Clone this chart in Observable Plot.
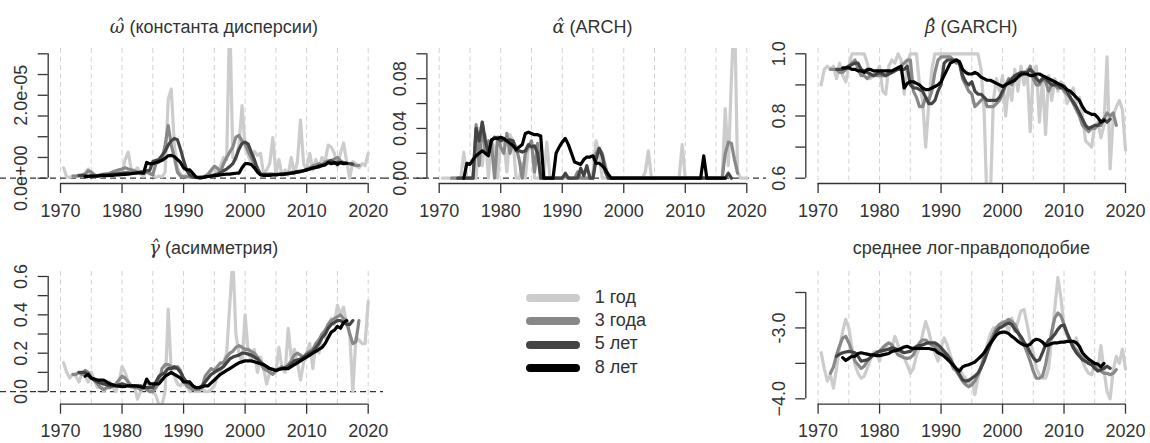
<!DOCTYPE html>
<html><head><meta charset="utf-8">
<script src="https://cdn.jsdelivr.net/npm/d3@7"></script>
<script src="https://cdn.jsdelivr.net/npm/@observablehq/plot@0.6"></script>
<style>
body{margin:0;background:#fff;}
#chart{position:relative;width:1150px;height:443px;overflow:hidden;font-family:"Liberation Sans",Arial,Helvetica,sans-serif;color:#333;}
.panel{position:absolute;}
.panel svg{overflow:visible;}
.title{position:absolute;width:340px;font-size:18px;line-height:18px;text-align:center;white-space:nowrap;color:#333;}
.greek{font-family:"DejaVu Serif",serif;font-style:italic;}
.legbar{position:absolute;height:8px;border-radius:4px;}
.legtxt{position:absolute;font-size:18px;line-height:18px;color:#333;white-space:nowrap;}
</style></head>
<body><div id="chart"></div>
<script>
// ---------- categories ----------
const windows = ["1 год", "3 года", "5 лет", "8 лет"];
const windowColors = ["#cccccc", "#888888", "#444444", "#000000"];
const windowStarts = [1970.5, 1972, 1973, 1974];
const STEP = 0.5;
const xTicks = [1970, 1980, 1990, 2000, 2010, 2020];
const gridYears = [1970, 1975, 1980, 1985, 1990, 1995, 2000, 2005, 2010, 2015, 2020];

// ---------- omega (units of 1e-6) ----------
const OMEGA_UNIT = 1e-6;
const omega1 = [2.5,0.3,0.2,0.5,0.4,0.8,0.5,1.2,2.2,0.5,
 0.3,0.6,0.4,0.8,1.2,0.5,1.5,0.8,1.5,1.0,
 4.5,6.3,2.0,1.5,2.5,1.0,0.5,1.8,1.0,0.8,
 0.2,0.5,0.3,1.5,19,21.5,8,2.5,1.0,0.5,
 0.8,0.3,0.2,0.1,0.1,0.2,0.3,0.5,1.5,2.5,
 0.5,3.0,5.0,4.5,40,5,4.5,8,17.5,7.5,
 5.5,3.5,6.5,5.5,6.0,1.0,2.0,3.5,9.8,1.0,
 4.5,0.5,2.0,0.8,5.0,1.0,4.0,14,3.5,2.0,
 6.0,2.0,4.5,2.5,5.0,4.0,8.0,7.5,6.0,3.0,
 6.0,8.5,4.0,0.0,4.0,3.5,2.5,3.5,3.0,6.0];
const omega3 = [0.5,0.5,0.6,0.8,1.0,1.8,1.5,0.8,0.6,0.8,
 1.0,1.0,1.2,1.5,1.8,2.0,2.2,2.5,2.2,2.0,
 1.8,1.5,1.3,1.2,1.5,1.2,0.8,3.5,4.0,4.5,
 8.0,12.7,8.0,5.0,1.5,0.5,0.3,0.3,0.3,0.2,
 0.2,0.2,0.3,0.5,1.0,2.0,2.9,2.4,1.5,3.5,
 5.0,6.3,7.5,9.9,10.3,9.0,8.3,6.5,5.0,3.5,
 2.5,1.0,0.9,0.9,1.0,0.9,0.8,0.9,1.0,1.0,
 1.1,1.4,1.5,1.4,1.6,1.8,2.2,2.5,3.0,3.2,
 3.5,3.2,3.9,4.2,4.3,4.6,5.0,4.2,3.5,3.6,
 3.5,3.3,3.0,3.1];
const omega5 = [0.6,0.6,0.6,0.5,0.5,0.5,0.6,0.7,0.8,0.8,0.9,1.0,1.0,1.1,
 1.2,1.3,1.3,1.2,1.2,1.3,1.5,1.5,1.8,1.9,4.0,4.3,
 4.5,5.5,6.5,8.0,9.0,9.6,9.3,7.0,4.3,2.0,
 0.8,0.3,0.2,0.2,0.2,0.3,0.4,0.6,0.8,1.0,
 1.3,1.8,2.2,2.8,3.5,5.0,7.0,8.4,8.7,8.2,
 6.3,4.5,2.2,1.0,0.9,0.9,0.9,0.9,0.9,1.0,
 1.0,1.1,1.2,1.3,1.4,1.6,1.7,1.8,2.0,2.2,
 2.4,2.6,3.0,3.2,3.4,3.9,4.2,3.6,3.9,3.7,
 3.8,3.6,3.5,3.4];
const omega8 = [0.4,0.4,0.5,0.5,0.5,0.6,0.6,0.6,0.7,0.7,
 0.8,0.8,0.9,0.9,1.0,1.1,1.2,1.3,1.3,1.2,
 3.8,3.5,3.5,3.8,4.0,4.3,4.8,5.4,5.5,5.2,
 4.5,3.8,2.5,2.0,2.0,1.2,0.3,0.1,0.1,0.3,
 0.4,0.5,0.6,0.7,0.8,0.9,1.0,1.0,1.1,1.2,
 1.2,2.5,3.5,3.5,3.3,2.5,1.5,0.8,0.7,0.7,
 0.7,0.8,0.8,0.9,0.9,1.0,1.1,1.2,1.3,1.5,
 1.6,1.8,2.0,2.2,2.5,2.6,2.8,3.0,3.2,3.8,
 3.5,3.8,3.3,3.8,3.5,3.6];

// ---------- alpha ----------
const alpha1 = [0,0,0,0,0,0,0,0.021,0,0,
 0,0,0.04,0.01,0.035,0,0.03,0.025,0,0.03,
 0.03,0.005,0.035,0.03,0,0,0.012,0,0.025,0.03,
 0,0,0,0,0.029,0,0,0,0,0,
 0,0,0,0,0,0,0,0,0,0.005,
 0.03,0.02,0,0,0,0,0,0,0,0,
 0,0,0,0,0,0,0.005,0.022,0,0,
 0,0,0,0,0,0,0,0,0.027,0,
 0,0,0,0,0,0,0,0,0,0,
 0,0,0.056,0.01,0.08,0.14,0.005,0,0,0];
const alpha3 = [0,0,0,0,0,0,0,0,
 0.043,0.01,0.045,0.02,0.03,0.028,0.0,0.033,0.025,0.02,
 0.036,0.02,0.03,0.025,0.015,0.0,0.02,0.025,0.03,0.005,
 0.028,0,0,0,0,0,0,0,0,0.002,
 0,0,0,0.005,0,0,0,0,0,0.02,
 0.024,0.02,0.01,0,0,0,0,0,0,0,
 0,0,0,0,0,0,0,0,0,0,
 0,0,0,0,0,0,0,0,0,0,
 0,0,0,0,0,0,0,0,0,0,
 0,0.02,0.029,0.028,0.015,0.004];
const alpha5 = [0,0,0,0,0,0,
 0.04,0.03,0.045,0.03,0.02,0.03,0.033,0.032,0.03,0.031,
 0.03,0.031,0.03,0.022,0.022,0.021,0.022,0.027,0.025,0.026,
 0.02,0,0,0,0,0,0,0,0,0.004,
 0,0,0,0,0.008,0.002,0.01,0,0,0.015,
 0.024,0.018,0.005,0,0,0,0,0,0,0,
 0,0,0,0,0,0,0,0,0,0,
 0,0,0,0,0,0,0,0,0,0,
 0,0,0,0,0,0,0,0,0,0,
 0,0,0.004,0];
const alpha8 = [0,0.012,0.011,0.015,0.018,0.02,0.022,0.02,0.018,0.031,
 0.032,0.032,0.033,0.032,0.03,0.028,0.026,0.023,0.025,0.027,
 0.036,0.037,0.036,0.035,0.035,0.034,0,0,0,0,
 0.02,0.025,0.029,0.032,0.027,0.02,0.013,0.012,0.011,0.015,
 0.017,0.017,0.018,0.012,0.012,0.01,0.007,0.003,0,0,
 0,0,0,0,0,0,0,0,0,0,
 0,0,0,0,0,0,0,0,0,0,
 0,0,0,0,0,0,0,0,0.018,0,
 0,0,0,0,0,0];

// ---------- beta ----------
const beta1 = [0.9,0.95,0.96,0.95,0.96,0.92,0.97,0.93,0.91,0.96,
 1.0,1.0,1.0,1.0,1.0,0.97,0.92,0.93,0.94,0.96,
 0.88,0.87,0.96,0.98,0.97,1.0,0.98,0.87,0.97,1.0,
 1.0,1.0,0.9,0.85,0.7,0.84,0.95,1.0,1.0,1.0,
 1.0,1.0,1.0,1.0,1.0,1.0,1.0,1.0,1.0,1.0,
 1.0,1.0,0.95,0.82,0.5,0.52,0.85,0.92,0.88,0.93,
 0.80,0.9,0.85,0.95,0.88,0.96,0.9,0.95,0.75,0.94,
 0.96,0.78,0.92,0.74,0.93,0.85,0.92,0.88,0.91,0.9,
 0.84,0.86,0.89,0.84,0.86,0.8,0.72,0.71,0.7,0.77,
 0.78,0.73,0.77,0.99,0.63,0.8,0.83,0.85,0.82,0.69];
const beta3 = [0.95,0.95,0.95,0.94,0.94,0.95,0.96,0.97,0.98,0.95,
 0.93,0.93,0.92,0.93,0.93,0.93,0.93,0.93,0.93,0.94,
 0.94,0.95,0.95,0.96,0.97,0.98,0.98,0.88,0.86,0.83,
 0.83,0.86,0.85,0.88,0.94,0.98,0.99,0.99,0.99,0.99,
 0.98,0.97,0.97,0.92,0.9,0.88,0.87,0.83,0.84,0.85,
 0.86,0.83,0.83,0.83,0.84,0.85,0.87,0.9,0.92,0.9,
 0.93,0.93,0.93,0.94,0.94,0.96,0.92,0.9,0.9,0.92,
 0.91,0.88,0.9,0.9,0.89,0.9,0.88,0.87,0.86,0.84,
 0.82,0.8,0.77,0.76,0.75,0.76,0.76,0.77,0.77,0.79,
 0.81,0.8,0.81,0.77];
const beta5 = [0.95,0.95,0.95,0.955,0.96,0.965,0.97,0.97,0.95,0.945,
 0.94,0.935,0.93,0.935,0.94,0.935,0.93,0.935,0.94,0.945,
 0.95,0.95,0.95,0.96,0.9,0.89,0.89,0.885,0.88,0.86,
 0.84,0.84,0.85,0.88,0.9,0.97,0.98,0.98,0.98,0.98,
 0.97,0.93,0.91,0.9,0.91,0.88,0.87,0.87,0.86,0.85,
 0.85,0.85,0.85,0.86,0.88,0.9,0.91,0.92,0.93,0.935,
 0.94,0.94,0.94,0.95,0.94,0.92,0.91,0.92,0.92,0.91,
 0.9,0.9,0.9,0.89,0.89,0.88,0.86,0.845,0.83,0.81,
 0.79,0.77,0.76,0.765,0.77,0.77,0.78,0.79,0.78,0.79];
const beta8 = [0.955,0.955,0.955,0.95,0.95,0.945,0.945,0.94,0.95,0.95,
 0.945,0.945,0.945,0.945,0.945,0.945,0.945,0.95,0.955,0.96,
 0.89,0.905,0.91,0.91,0.905,0.9,0.89,0.885,0.885,0.89,
 0.895,0.9,0.91,0.93,0.95,0.97,0.975,0.98,0.975,0.95,
 0.94,0.935,0.935,0.94,0.935,0.925,0.92,0.915,0.915,0.91,
 0.905,0.9,0.895,0.9,0.905,0.91,0.915,0.925,0.935,0.935,
 0.935,0.93,0.93,0.935,0.935,0.93,0.925,0.92,0.915,0.91,
 0.905,0.9,0.895,0.885,0.88,0.87,0.86,0.85,0.83,0.815,
 0.81,0.805,0.805,0.795,0.78,0.785];

// ---------- gamma ----------
const gamma1 = [0.15,0.1,0.07,0.09,0.08,0.05,0.1,0.08,0.05,0.1,
 0.06,0.02,0.05,0.0,0.02,0.05,0.02,0.0,0.05,0.13,
 0.1,0.05,0.02,0.03,-0.04,0.0,0.02,0.06,0.02,0.0,
 -0.02,-0.07,-0.07,0.0,0.43,0.1,0.08,0.04,0.03,0.05,
 0.03,0.0,0.02,0.0,0.0,0.02,0.0,0.0,0.01,0.03,
 0.08,0.1,0.15,0.2,0.45,0.7,0.3,0.2,0.15,0.4,
 0.2,0.17,0.22,0.1,0.18,0.12,0.04,0.1,0.12,0.1,
 0.23,0.12,0.1,0.33,0.17,0.22,0.15,0.06,0.15,0.2,
 0.25,0.12,0.25,0.2,0.3,0.28,0.35,0.38,0.35,0.45,
 0.4,0.44,0.35,0.3,0.0,0.28,0.27,0.25,0.25,0.47];
const gamma3 = [0.09,0.09,0.1,0.09,0.11,0.1,0.07,0.06,0.04,0.02,
 0.01,0.02,0.02,0.03,0.04,0.06,0.08,0.07,0.05,0.03,
 0.02,0.02,0.01,0.02,0.01,0.0,0.0,0.02,0.05,0.12,
 0.14,0.14,0.13,0.12,0.13,0.11,0.06,0.03,0.02,0.01,
 0.01,0.01,0.02,0.08,0.1,0.12,0.11,0.13,0.15,0.15,
 0.18,0.2,0.21,0.23,0.24,0.23,0.22,0.22,0.21,0.2,
 0.18,0.15,0.12,0.11,0.1,0.09,0.11,0.12,0.13,0.12,
 0.14,0.16,0.19,0.2,0.19,0.18,0.2,0.21,0.22,0.25,
 0.27,0.3,0.32,0.35,0.37,0.38,0.39,0.4,0.38,0.37,
 0.3,0.25,0.26,0.37];
const gamma5 = [0.1,0.1,0.1,0.085,0.07,0.06,0.05,0.045,0.04,0.035,
 0.03,0.03,0.03,0.035,0.04,0.035,0.03,0.03,0.03,0.03,
 0.03,0.025,0.02,0.02,0.02,0.05,0.08,0.09,0.1,0.12,
 0.12,0.13,0.12,0.1,0.07,0.05,0.04,0.03,0.02,0.02,
 0.03,0.05,0.07,0.09,0.1,0.11,0.12,0.13,0.15,0.17,
 0.18,0.185,0.19,0.2,0.2,0.195,0.19,0.18,0.17,0.155,
 0.14,0.13,0.12,0.115,0.11,0.115,0.12,0.125,0.13,0.145,
 0.16,0.165,0.17,0.18,0.19,0.2,0.21,0.23,0.25,0.28,
 0.3,0.33,0.35,0.36,0.37,0.37,0.36,0.35,0.35,0.37];
const gamma8 = [0.08,0.09,0.07,0.065,0.06,0.06,0.06,0.05,0.04,0.035,
 0.03,0.028,0.025,0.027,0.03,0.03,0.03,0.028,0.025,0.02,
 0.065,0.04,0.04,0.04,0.04,0.06,0.08,0.09,0.1,0.09,
 0.08,0.07,0.05,0.05,0.05,0.03,0.02,0.02,0.025,0.03,
 0.03,0.045,0.06,0.075,0.09,0.1,0.11,0.12,0.13,0.14,
 0.15,0.155,0.16,0.16,0.16,0.155,0.15,0.145,0.14,0.13,
 0.12,0.115,0.11,0.115,0.12,0.12,0.12,0.13,0.14,0.15,
 0.16,0.17,0.18,0.19,0.2,0.21,0.22,0.23,0.25,0.28,
 0.31,0.32,0.34,0.33,0.36,0.37];

// ---------- mean log-likelihood ----------
const loglik1 = [-3.35,-3.57,-3.75,-3.66,-3.85,-3.57,-3.28,-3.05,-2.88,-3.0,
 -3.28,-3.52,-3.64,-3.71,-3.68,-3.57,-3.45,-3.35,-3.33,-3.47,
 -3.28,-3.24,-3.31,-3.28,-3.12,-3.24,-3.38,-3.42,-3.52,-3.64,
 -3.57,-3.38,-3.28,-3.09,-2.91,-3.05,-3.24,-3.35,-3.47,-3.28,
 -3.14,-3.24,-3.38,-3.52,-3.61,-3.57,-3.66,-3.71,-3.80,-3.71,
 -3.94,-3.71,-3.52,-3.38,-3.24,-3.09,-3.0,-3.0,-2.95,-2.91,
 -2.95,-3.05,-2.86,-3.05,-2.91,-2.76,-2.74,-2.95,-3.19,-3.35,
 -3.57,-3.66,-3.71,-3.71,-3.57,-3.14,-2.72,-2.29,-2.58,-3.0,
 -3.09,-3.19,-3.28,-3.14,-3.28,-3.47,-3.57,-3.64,-3.66,-3.5,
 -3.6,-3.25,-3.6,-3.9,-4.0,-3.6,-3.4,-3.5,-3.3,-3.58];
const loglik3 = [-3.64,-3.55,-3.38,-3.25,-3.14,-3.12,-3.21,-3.33,-3.47,-3.52,
 -3.57,-3.54,-3.47,-3.42,-3.38,-3.35,-3.33,-3.28,-3.24,-3.21,
 -3.24,-3.31,-3.38,-3.40,-3.42,-3.43,-3.42,-3.38,-3.28,-3.21,
 -3.17,-3.17,-3.21,-3.24,-3.26,-3.31,-3.33,-3.38,-3.42,-3.47,
 -3.57,-3.61,-3.68,-3.75,-3.80,-3.83,-3.80,-3.75,-3.66,-3.57,
 -3.42,-3.28,-3.19,-3.09,-3.0,-2.95,-2.93,-2.91,-2.88,-2.91,
 -2.95,-3.05,-3.17,-3.24,-3.35,-3.47,-3.61,-3.71,-3.71,-3.68,
 -3.52,-3.28,-3.05,-2.86,-2.79,-2.83,-2.95,-3.09,-3.19,-3.26,
 -3.31,-3.38,-3.42,-3.47,-3.50,-3.52,-3.54,-3.59,-3.61,-3.64,
 -3.64,-3.66,-3.64,-3.59];
const loglik5 = [-3.40,-3.37,-3.35,-3.34,-3.33,-3.34,-3.35,-3.40,-3.47,-3.46,
 -3.45,-3.42,-3.38,-3.35,-3.33,-3.32,-3.31,-3.30,-3.28,-3.29,
 -3.31,-3.33,-3.35,-3.34,-3.33,-3.29,-3.26,-3.25,-3.24,-3.22,
 -3.21,-3.21,-3.21,-3.24,-3.28,-3.33,-3.38,-3.44,-3.52,-3.58,
 -3.66,-3.73,-3.75,-3.74,-3.71,-3.68,-3.64,-3.56,-3.47,-3.35,
 -3.24,-3.14,-3.05,-3.0,-2.98,-2.95,-2.93,-2.95,-3.02,-3.07,
 -3.12,-3.20,-3.26,-3.35,-3.42,-3.47,-3.45,-3.35,-3.24,-3.17,
 -3.14,-3.09,-3.02,-2.97,-2.96,-3.07,-3.17,-3.28,-3.35,-3.40,
 -3.45,-3.47,-3.50,-3.52,-3.57,-3.61,-3.59,-3.57,-3.54,-3.57];
const loglik8 = [-3.42,-3.46,-3.43,-3.40,-3.40,-3.36,-3.35,-3.36,-3.37,-3.38,
 -3.38,-3.39,-3.39,-3.38,-3.37,-3.36,-3.33,-3.32,-3.31,-3.29,
 -3.27,-3.26,-3.28,-3.29,-3.29,-3.29,-3.29,-3.29,-3.29,-3.30,
 -3.31,-3.35,-3.37,-3.40,-3.44,-3.48,-3.53,-3.58,-3.61,-3.55,
 -3.53,-3.52,-3.50,-3.48,-3.44,-3.40,-3.35,-3.28,-3.22,-3.16,
 -3.10,-3.07,-3.06,-3.06,-3.08,-3.12,-3.15,-3.19,-3.22,-3.24,
 -3.25,-3.23,-3.18,-3.16,-3.17,-3.20,-3.25,-3.24,-3.22,-3.21,
 -3.21,-3.20,-3.20,-3.19,-3.19,-3.19,-3.21,-3.26,-3.35,-3.40,
 -3.44,-3.47,-3.50,-3.51,-3.55,-3.50];

// ---------- tick values and labels ----------
const omegaTicks = [0, 5e-6, 1e-5, 1.5e-5, 2e-5, 2.5e-5, 3e-5];
const omegaLabelVals = [0, 2e-5];
const omegaLabels = ["0.0e+00", "2.0e-05"];
const alphaTicks = [0, 0.02, 0.04, 0.06, 0.08, 0.10];
const alphaLabelVals = [0, 0.04, 0.08];
const alphaLabels = ["0.00", "0.04", "0.08"];
const betaTicks = [0.6, 0.7, 0.8, 0.9, 1.0];
const betaLabelVals = [0.6, 0.8, 1.0];
const betaLabels = ["0.6", "0.8", "1.0"];
const gammaTicks = [0, 0.1, 0.2, 0.3, 0.4, 0.5, 0.6];
const gammaLabelVals = [0, 0.2, 0.4, 0.6];
const gammaLabels = ["0.0", "0.2", "0.4", "0.6"];
const loglikTicks = [-4.0, -3.5, -3.0, -2.5];
const loglikLabelVals = [-4.0, -3.0];
const loglikLabels = ["\u22124.0", "-3.0"];

// ---------- layout ----------
const FONT = "Liberation Sans, Arial, Helvetica, sans-serif";
const TEXT = "#333";
const panels = [
  {left:0, top:0, width:383, height:221, mL:47.7, mR:3, mT:48, mB:38,
   yDomain:[-1.28e-6, 3.128e-5], series:[omega1,omega3,omega5,omega8].map(a=>a.map(v=>v*OMEGA_UNIT)),
   ticks:omegaTicks, labelVals:omegaLabelVals, labels:omegaLabels, zero:true,
   greek:"\u03C9\u0302", rest:" (константа дисперсии)", titleTop:18},
  {left:383, top:0, width:383, height:221, mL:43.4, mR:7.4, mT:48, mB:38,
   yDomain:[-0.00426, 0.10426], series:[alpha1,alpha3,alpha5,alpha8],
   ticks:alphaTicks, labelVals:alphaLabelVals, labels:alphaLabels, zero:true,
   greek:"\u03B1\u0302", rest:" (ARCH)", titleTop:18},
  {left:766, top:0, width:384, height:221, mL:39.3, mR:12.7, mT:48, mB:38,
   yDomain:[0.583, 1.017], series:[beta1,beta3,beta5,beta8],
   ticks:betaTicks, labelVals:betaLabelVals, labels:betaLabels, zero:false,
   greek:"\u03B2\u0302", rest:" (GARCH)", titleTop:18},
  {left:0, top:221, width:383, height:222, mL:47.7, mR:3, mT:50, mB:39.3,
   yDomain:[-0.066, 0.626], series:[gamma1,gamma3,gamma5,gamma8],
   ticks:gammaTicks, labelVals:gammaLabelVals, labels:gammaLabels, zero:true,
   greek:"\u03B3\u0302", rest:" (асимметрия)", titleTop:18},
  {left:766, top:221, width:384, height:222, mL:39.3, mR:12.7, mT:50, mB:39.3,
   yDomain:[-4.076, -2.204], series:[loglik1,loglik3,loglik5,loglik8],
   ticks:loglikTicks, labelVals:loglikLabelVals, labels:loglikLabels, zero:false,
   greek:"", rest:"среднее лог-правдоподобие", titleTop:18}
];

const chart = document.getElementById("chart");

for (const p of panels) {
  const data = [];
  p.series.forEach((vals, i) => vals.forEach((v, j) =>
    data.push({w: windows[i], year: windowStarts[i] + j * STEP, value: v})));
  const labelData = p.labelVals.map((v, i) => ({v, t: p.labels[i]}));
  const svg = Plot.plot({
    width: p.width, height: p.height,
    marginLeft: p.mL, marginRight: p.mR, marginTop: p.mT, marginBottom: p.mB,
    x: {domain: [1968, 2022], axis: null},
    y: {domain: p.yDomain, axis: null},
    color: {domain: windows, range: windowColors},
    style: {background: "transparent", overflow: "visible", fontFamily: FONT},
    marks: [
      Plot.ruleX(gridYears, {stroke: "#d2d2d2", strokeWidth: 1, strokeDasharray: "5,3.5"}),
      p.zero ? Plot.ruleY([0], {stroke: "#333", strokeWidth: 1.3, strokeDasharray: "6,4", insetLeft: -p.mL, insetRight: -p.mR}) : null,
      Plot.line(data, {x: "year", y: "value", z: "w", stroke: "w", strokeWidth: 3.2, strokeLinejoin: "round", strokeLinecap: "round", clip: true}),
      // y axis
      Plot.ruleX([1968], {y1: p.ticks[0], y2: p.ticks[p.ticks.length - 1], stroke: "#333", strokeWidth: 1.3}),
      Plot.axisY({ticks: p.ticks, anchor: "left", tickSize: 10, tickFormat: () => "", label: null, stroke: "#333", strokeWidth: 1.3}),
      Plot.text(labelData, {y: "v", text: "t", frameAnchor: "left", dx: -27, rotate: -90, textAnchor: "middle", lineAnchor: "middle", fontSize: 18, fill: TEXT, fontFamily: FONT}),
      // x axis
      Plot.ruleY([p.yDomain[0]], {x1: 1970, x2: 2020, stroke: "#333", strokeWidth: 1.3}),
      Plot.axisX({ticks: xTicks, anchor: "bottom", tickSize: 10, tickFormat: () => "", label: null, stroke: "#333", strokeWidth: 1.3}),
      Plot.text(xTicks, {x: d => d, text: d => String(d), frameAnchor: "bottom", dy: 27.5, lineAnchor: "middle", fontSize: 18, fill: TEXT, fontFamily: FONT})
    ]
  });
  const div = document.createElement("div");
  div.className = "panel";
  div.style.left = p.left + "px";
  div.style.top = p.top + "px";
  div.style.width = p.width + "px";
  div.style.height = p.height + "px";
  div.appendChild(svg);
  chart.appendChild(div);

  const cx = p.left + (p.mL + (p.width - p.mR)) / 2;
  const t = document.createElement("div");
  t.className = "title";
  t.style.left = (cx - 170) + "px";
  t.style.top = (p.top + p.titleTop) + "px";
  if (p.greek) {
    const g = document.createElement("span");
    g.className = "greek";
    g.textContent = p.greek;
    t.appendChild(g);
  }
  t.appendChild(document.createTextNode(p.rest));
  chart.appendChild(t);
}

// legend
const legendY = [297.7, 321.2, 344.5, 368.2];
windows.forEach((w, i) => {
  const bar = document.createElement("div");
  bar.className = "legbar";
  bar.style.left = "526px";
  bar.style.width = "54px";
  bar.style.top = (legendY[i] - 4) + "px";
  bar.style.background = windowColors[i];
  chart.appendChild(bar);
  const tx = document.createElement("div");
  tx.className = "legtxt";
  tx.style.left = "594.7px";
  tx.style.top = (legendY[i] - 10.2) + "px";
  tx.textContent = w;
  chart.appendChild(tx);
});
</script></body></html>
